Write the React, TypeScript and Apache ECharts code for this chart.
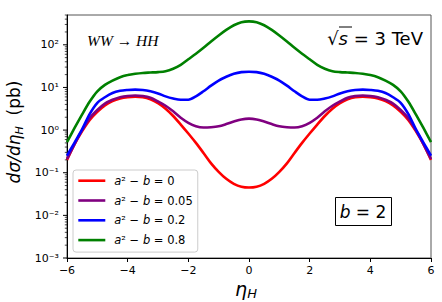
import { useEffect, useRef } from 'react';
import * as echarts from 'echarts';

const etaValues = [
  -6, -5.75, -5.5, -5.25, -5, -4.75, -4.5, -4.25, -4, -3.75, -3.5, -3.25, -3, -2.75, -2.5, -2.25, -2, -1.75, -1.5, -1.25, -1, -0.75, -0.5, -0.25,
  0, 0.25, 0.5, 0.75, 1, 1.25, 1.5, 1.75, 2, 2.25, 2.5, 2.75, 3, 3.25, 3.5, 3.75, 4, 4.25, 4.5, 4.75, 5, 5.25, 5.5, 5.75, 6,
];
const redValues = [
  0.2, 0.47, 0.95, 1.74, 2.69, 3.8, 4.79, 5.5, 5.89, 6.03, 5.89, 5.25, 4.27, 3.16, 2.14, 1.35, 0.83, 0.5, 0.29, 0.166, 0.105, 0.072, 0.055, 0.047,
  0.045, 0.047, 0.055, 0.072, 0.105, 0.166, 0.29, 0.5, 0.83, 1.35, 2.14, 3.16, 4.27, 5.25, 5.89, 6.03, 5.89, 5.5, 4.79, 3.8, 2.69, 1.74, 0.95, 0.47, 0.2,
];
const purpleValues = [
  0.21, 0.47, 1.0, 1.91, 2.95, 4.17, 5.13, 5.89, 6.31, 6.46, 6.31, 5.75, 4.68, 3.72, 2.75, 1.95, 1.48, 1.23, 1.15, 1.17, 1.23, 1.38, 1.58, 1.78,
  1.86, 1.78, 1.58, 1.38, 1.23, 1.17, 1.15, 1.23, 1.48, 1.95, 2.75, 3.72, 4.68, 5.75, 6.31, 6.46, 6.31, 5.89, 5.13, 4.17, 2.95, 1.91, 1.0, 0.47, 0.21,
];
const blueValues = [
  0.25, 0.51, 1.05, 2.4, 4.37, 5.89, 7.41, 8.32, 8.71, 8.91, 8.71, 8.13, 7.24, 6.17, 5.5, 5.13, 5.13, 6.17, 8.13, 11, 14.5, 17.8, 20.9, 22.9,
  23.4, 22.9, 20.9, 17.8, 14.5, 11, 8.13, 6.17, 5.13, 5.13, 5.5, 6.17, 7.24, 8.13, 8.71, 8.91, 8.71, 8.32, 7.41, 5.89, 4.37, 2.4, 1.05, 0.51, 0.25,
];
const greenValues = [
  0.52, 1.12, 2.34, 4.68, 8.13, 11.5, 14.5, 17.4, 19.5, 20.9, 21.9, 22.4, 22.9, 24, 27.5, 33.9, 45.7, 61.7, 85.1, 120, 166, 224, 288, 339,
  355, 339, 288, 224, 166, 120, 85.1, 61.7, 45.7, 33.9, 27.5, 24, 22.9, 22.4, 21.9, 20.9, 19.5, 17.4, 14.5, 11.5, 8.13, 4.68, 2.34, 1.12, 0.52,
];

const seriesValues = [redValues, purpleValues, blueValues, greenValues];
const seriesParams = ['0', '0.05', '0.2', '0.8'];
const seriesNames = seriesParams.map((p) => 'a² − b = ' + p);
const seriesColors = ['#ff0000', '#800080', '#0000ff', '#008000'];

const yMajorExponents = [-3, -2, -1, 0, 1, 2];
const yMinorMultipliers = [2, 3, 4, 5, 6, 7, 8, 9];

const SUP: Record<string, string> = { '-': '⁻', '0': '⁰', '1': '¹', '2': '²', '3': '³', '4': '⁴', '5': '⁵', '6': '⁶', '7': '⁷', '8': '⁸', '9': '⁹' };

export default function App() {
  const ref = useRef<HTMLDivElement>(null);
  useEffect(() => {
    if (!ref.current) return;
    const chart = echarts.init(ref.current, undefined, { renderer: 'svg' });
    const font = 'DejaVu Sans';

    const tickData: number[][] = [];
    yMajorExponents.forEach((e) => {
      tickData.push([-6, Math.pow(10, e), 1]);
      if (e < 2) yMinorMultipliers.forEach((m) => tickData.push([-6, m * Math.pow(10, e), 0]));
    });
    yMinorMultipliers.slice(0, 4).forEach((m) => tickData.push([-6, m * 100, 0]));

    const lineSeries = seriesValues.map((vals, i) => ({
      type: 'line',
      name: seriesNames[i],
      data: etaValues.map((x, j) => [x, vals[j]]),
      smooth: 0.3,
      symbol: 'none',
      lineStyle: { color: seriesColors[i], width: 2.6 },
      itemStyle: { color: seriesColors[i] },
      z: 3 + i,
    }));

    chart.setOption({
      animation: false,
      grid: { left: 67, right: 11, top: 15, bottom: 44, show: true, borderColor: '#555', borderWidth: 1, backgroundColor: 'transparent' },
      xAxis: {
        type: 'value',
        min: -6,
        max: 6,
        interval: 2,
        axisLine: { show: true, onZero: false, lineStyle: { color: '#000', width: 1 } },
        axisTick: { show: true, inside: false, length: 4, lineStyle: { color: '#000' } },
        axisLabel: { fontFamily: font, fontSize: 11, color: '#000', margin: 7, formatter: (v: number) => String(v).replace('-', '−') },
        splitLine: { show: false },
      },
      yAxis: {
        type: 'log',
        logBase: 10,
        min: 0.001,
        max: 500,
        axisLine: { show: true, onZero: false, lineStyle: { color: '#000', width: 1 } },
        axisTick: { show: false },
        axisLabel: {
          fontFamily: font,
          fontSize: 11,
          color: '#000',
          margin: 8,
          formatter: (v: number) => {
            const e = Math.log10(v);
            if (Math.abs(e - Math.round(e)) > 1e-6) return '';
            return '10' + String(Math.round(e)).split('').map((c) => SUP[c]).join('');
          },
        },
        splitLine: { show: false },
        minorTick: { show: false },
      },
      legend: {
        data: seriesNames,
        left: 73,
        top: 170,
        orient: 'vertical',
        itemWidth: 27,
        itemHeight: 12,
        itemGap: 7.8,
        padding: [4.7, 5, 6, 4],
        backgroundColor: 'rgba(255,255,255,0.85)',
        borderColor: '#cccccc',
        borderWidth: 1,
        borderRadius: 3,
        selectedMode: false,
        itemStyle: { opacity: 0 },
        lineStyle: { width: 2.6 },
        formatter: (name: string) => {
          const i = seriesNames.indexOf(name);
          return '{i|a}² − {i|b} = ' + seriesParams[i];
        },
        textStyle: {
          fontFamily: font,
          fontSize: 11.5,
          color: '#000',
          padding: [0, 0, 0, 4],
          rich: { i: { fontFamily: font, fontStyle: 'italic', fontSize: 11.5, color: '#000' } },
        },
      },
      series: [
        ...lineSeries,
        {
          type: 'custom',
          name: 'yticks',
          clip: false,
          silent: true,
          z: 10,
          data: tickData,
          encode: { x: 0, y: 1 },
          renderItem: (_params: any, api: any) => {
            const p = api.coord([api.value(0), api.value(1)]);
            const major = api.value(2) === 1;
            const len = major ? 4 : 2.2;
            return {
              type: 'line',
              shape: { x1: p[0] - len, y1: p[1], x2: p[0], y2: p[1] },
              style: { stroke: '#000', lineWidth: major ? 1 : 0.7 },
            };
          },
        },
      ],
      graphic: [
        {
          type: 'text',
          x: 87,
          y: 40,
          style: { text: 'WW → HH', font: 'italic 15.5px "Liberation Serif"', fill: '#000', align: 'left', verticalAlign: 'middle' },
        },
        {
          type: 'text',
          x: 423,
          y: 38,
          style: {
            text: '√{s|s} = 3 TeV',
            font: '18px "DejaVu Sans"',
            fill: '#000',
            align: 'right',
            verticalAlign: 'middle',
            rich: { s: { font: 'italic 18px "DejaVu Sans"', fill: '#000' } },
          },
        },
        {
          type: 'line',
          shape: { x1: 339, y1: 27, x2: 352, y2: 27 },
          style: { stroke: '#000', lineWidth: 1 },
        },
        {
          type: 'rect',
          shape: { x: 335.5, y: 197.5, width: 56, height: 28 },
          style: { fill: '#fff', stroke: '#000', lineWidth: 1 },
          z: 20,
        },
        {
          type: 'text',
          x: 363,
          y: 211.5,
          z: 21,
          style: {
            text: '{i|b} = 2',
            font: '17px "DejaVu Sans"',
            fill: '#000',
            align: 'center',
            verticalAlign: 'middle',
            rich: { i: { font: 'italic 17px "DejaVu Sans"', fill: '#000' } },
          },
        },
        {
          type: 'text',
          x: 246,
          y: 289,
          style: {
            text: '{e|η}{s|H}',
            align: 'center',
            verticalAlign: 'middle',
            rich: {
              e: { font: 'italic 19px "DejaVu Sans"', fill: '#000', lineHeight: 22, verticalAlign: 'middle' },
              s: { font: 'italic 13px "DejaVu Sans"', fill: '#000', lineHeight: 12, verticalAlign: 'bottom' },
            },
          },
        },
        {
          type: 'text',
          x: 14,
          y: 132,
          rotation: Math.PI / 2,
          style: {
            text: '{i|dσ/dη}{s|H}{n|  (pb)}',
            align: 'center',
            verticalAlign: 'middle',
            rich: {
              i: { font: 'italic 17px "DejaVu Sans"', fill: '#000', lineHeight: 22, verticalAlign: 'middle' },
              s: { font: 'italic 11px "DejaVu Sans"', fill: '#000', lineHeight: 11, verticalAlign: 'bottom' },
              n: { font: '17px "DejaVu Sans"', fill: '#000', lineHeight: 22, verticalAlign: 'middle' },
            },
          },
        },
      ],
    });
    return () => chart.dispose();
  }, []);
  return <div ref={ref} style={{ position: 'absolute', left: 0, top: 0, width: 442, height: 302 }} />;
}
